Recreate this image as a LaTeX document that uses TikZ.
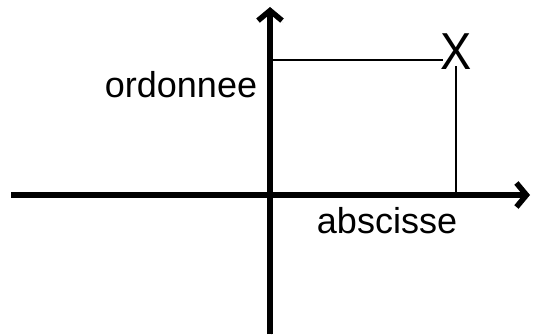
\documentclass[tikz,border=0pt]{standalone}
\usepackage{fontspec}
\setmainfont{Liberation Sans}
\usetikzlibrary{arrows.meta,positioning}

\begin{document}
\begin{tikzpicture}[x=1pt,y=-1pt,
    axis/.style={line width=5.5pt, -{Straight Barb[length=10pt,width=24pt]},
        preaction={draw=black!10, transform canvas={shift={(1.5pt,-2.5pt)}}}},
    proj/.style={line width=1.3pt},
    lbl/.style={font=\fontsize{36}{36}\selectfont, inner sep=0pt}]
    \useasboundingbox (0,0) rectangle (534,334);

    % Axes
    \coordinate (origin) at (270,195);
    \coordinate (xbeg) at (11,195);
    \coordinate (xend) at (530,195);
    \coordinate (ybeg) at (270,334);
    \coordinate (yend) at (270,7);
    \draw[axis] (xbeg) -- (xend);
    \draw[axis] (ybeg) -- (yend);

    % Point
    \node[font=\fontsize{52}{52}\selectfont, inner sep=0pt] (pt) at (456,52) {\scalebox{0.9}[1]{X}};
    \coordinate (yproj) at (270,60);
    \draw[proj] (yproj) -- ([xshift=3pt]pt.west |- yproj);
    \draw[proj] ([yshift=4pt]pt.south) -- (pt.south |- origin);

    % Labels
    \node[lbl, anchor=base] (ordlbl) at (181,97) {ordonnee};
    \node[lbl, anchor=base] (abslbl) at (387,233) {abscisse};
\end{tikzpicture}
\end{document}
